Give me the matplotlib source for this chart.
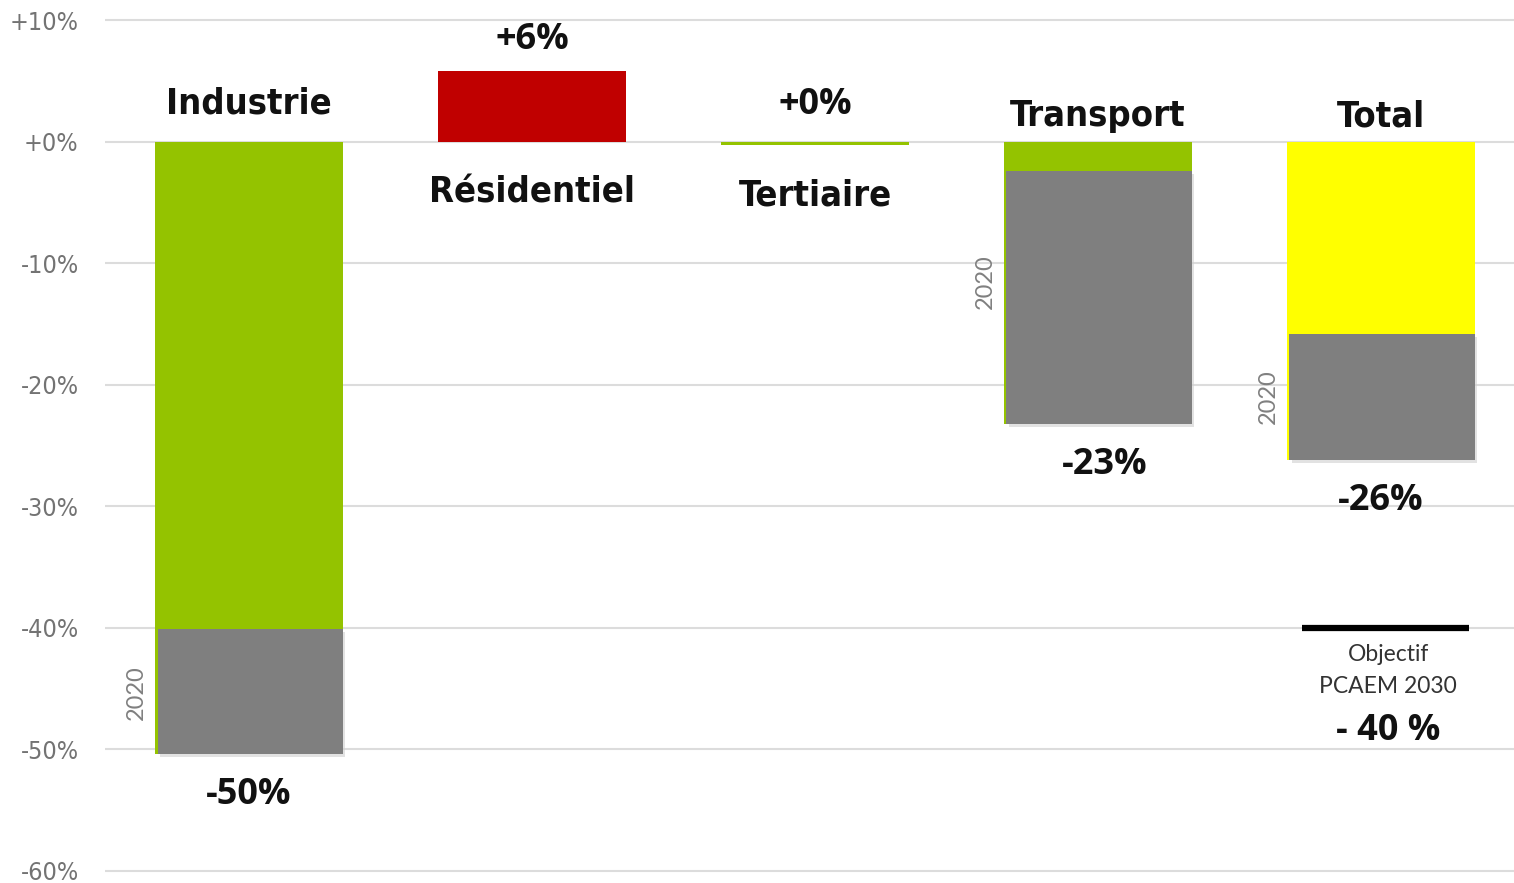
import matplotlib
matplotlib.use("Agg")
import matplotlib.pyplot as plt
import numpy as np

# data (% change vs reference year)
categories = ["Industrie", "Résidentiel", "Tertiaire", "Transport", "Total"]
total_change = [-50.4, 5.8, 0.0, -23.2, -26.2]     # full bar
part_2020 = [-10.3, 0.0, 0.0, -20.8, -10.4]        # grey part (2020)
value_labels = ["-50%", "+6%", "+0%", "-23%", "-26%"]
bar_colors = ["#94C300", "#C00000", "#94C300", "#94C300", "#FFFF00"]
objectif = -40
objectif_lines = ["Objectif", "PCAEM 2030"]
objectif_label = "- 40 %"
yticks = [10, 0, -10, -20, -30, -40, -50, -60]

# layout for category names (y in % units)
name_y = [3.1, -4.2, -4.4, 2.1, 2.1]
pos_2020 = [-45.3, None, None, -11.5, -21.0]

fig = plt.figure(figsize=(15.14, 8.83), dpi=100)
ax = fig.add_axes([0.0694, 0.0, 0.9306, 1.0])

x = np.arange(len(categories))
w = 0.665

ax.set_ylim(-61.0, 11.65)
ax.set_xlim(-0.509, 4.47)

for v in yticks:
    ax.axhline(v, color="#DCDCDC", lw=1.5, zorder=0)

for i in range(len(categories)):
    h = total_change[i] if total_change[i] != 0 else -0.3
    ax.bar(x[i], h, width=w, color=bar_colors[i], zorder=2)
    if part_2020[i] != 0:
        bottom = total_change[i] - part_2020[i]
        ax.bar(x[i] + 0.012, part_2020[i], bottom=bottom - 0.25, width=w - 0.01,
               color="#D0D0D0", zorder=2.5, alpha=0.6)
        ax.bar(x[i] + 0.004, part_2020[i], bottom=bottom, width=w - 0.01,
               color="#7F7F7F", zorder=3)
        ax.text(x[i] - w / 2 - 0.067, pos_2020[i], "2020", rotation=90, ha="center",
                va="center", color="#808080", fontsize=17, family="Lato")

cond = ["DejaVu Sans"]
cat_font = dict(family=cond, fontweight="bold", fontstretch="condensed",
                fontsize=26, color="#111111", ha="center", va="center")
val_font = dict(family="Open Sans", fontweight="bold", fontstretch="normal",
                fontsize=26, color="#111111", ha="center", va="center")

for i, name in enumerate(categories):
    ax.text(x[i], name_y[i], name, **cat_font)

for i, lab in enumerate(value_labels):
    if total_change[i] > 0:
        yy = total_change[i] + 2.6
    elif total_change[i] == 0:
        yy = 3.0
    else:
        yy = total_change[i] - 3.4
    ax.text(x[i] + (0.025 if i == 3 else 0), yy, lab, **val_font)

# objective marker on Total
ax.hlines(objectif, x[4] - 0.28, x[4] + 0.31, color="black", lw=4.5, zorder=4)
ax.text(x[4] + 0.025, objectif - 2.2, objectif_lines[0], ha="center", va="center",
        fontsize=16.5, family="Lato", color="#333333")
ax.text(x[4] + 0.025, objectif - 4.85, objectif_lines[1], ha="center", va="center",
        fontsize=16.5, family="Lato", color="#333333")
ax.text(x[4] + 0.025, objectif - 8.5, objectif_label, ha="center", va="center",
        fontsize=26, family="Open Sans", fontweight="bold", fontstretch="normal",
        color="#111111")

ax.set_yticks(yticks)
ax.set_yticklabels(["+10%" if v > 0 else ("+0%" if v == 0 else f"{v}%") for v in yticks],
                   family=cond, fontstretch="condensed", fontsize=18, color="#737373")
ax.tick_params(axis="y", length=0, pad=19)
ax.set_xticks([])
for s in ax.spines.values():
    s.set_visible(False)

fig.savefig("out.png", dpi=100)
